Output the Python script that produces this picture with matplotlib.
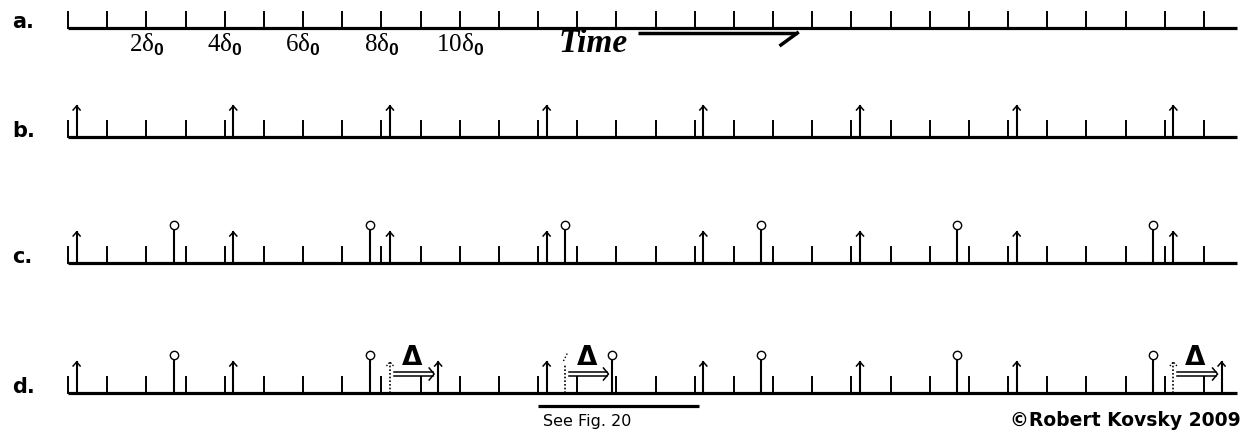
import matplotlib
matplotlib.use("Agg")
import matplotlib.pyplot as plt

# ---- data (time in units of one tick interval, delta_0) ----
ticks = list(range(30))                 # tick marks on every time line
line_end = 29.84                        # where the time lines stop
tick_labels = [2, 4, 6, 8, 10]          # labelled ticks on line a

# line b / c: regular pulses (arrows)
arrows_bc = [0.22, 4.22, 8.22, 12.22, 16.22, 20.22, 24.22, 28.22]
# line c: second regular train (lollipops)
pins_c = [2.7, 7.7, 12.7, 17.7, 22.7, 27.7]

# line d: same trains, some pulses delayed by Delta
arrows_d = [0.22, 4.22, 9.45, 12.22, 16.22, 20.22, 24.22, 29.45]
pins_d = [2.7, 7.7, 13.9, 17.7, 22.7, 27.7]
ghost_arrows_d = [8.22, 28.22]          # dotted original positions
ghost_pins_d = [12.7]
shifts_d = [(8.22, 9.45), (12.7, 13.9), (28.22, 29.45)]

# ---- layout (pixels, y down) ----
X0, DX = 68, 39.17
PX = 1 / DX                             # one pixel in time units
rows = {"a": 28, "b": 137, "c": 263, "d": 393}
TICK_H = 16
ARROW_H = 31
PIN_H = 36

plt.rcParams["mathtext.fontset"] = "custom"
plt.rcParams["mathtext.rm"] = "Liberation Serif"
plt.rcParams["mathtext.bf"] = "Liberation Sans:bold"

fig = plt.figure(figsize=(12.56, 4.40), dpi=100)
ax = fig.add_axes([0, 0, 1, 1])
ax.set_xlim(-X0 / DX, (1256 - X0) / DX)
ax.set_ylim(440, 0)
ax.axis("off")


def time_line(y):
    ax.plot([0, line_end], [y, y], color="black", lw=2.3, solid_capstyle="butt")
    for t in ticks:
        ax.plot([t, t], [y, y - TICK_H], color="black", lw=1.4)


def arrow(t, y, ls="-"):
    top = y - ARROW_H
    ax.plot([t, t], [y, top], color="black", lw=1.5, ls=ls)
    ax.plot([t - 3.5 * PX, t, t + 3.5 * PX], [top + 4, top, top + 4],
            color="black", lw=1.1, ls=ls)


def pin(t, y):
    top = y - PIN_H
    ax.plot([t, t], [y, top], color="black", lw=1.5)
    ax.plot([t], [top - 1.5], marker="o", ms=6, mfc="white", mec="black",
            mew=1.0, ls="none")


def ghost(t, y, h):
    ax.plot([t, t], [y, y - h], color="black", lw=1.2, ls=(0, (1, 1.2)))


def delta_arrow(t0, t1, y):
    a, b = t0 + 4 * PX, t1 - 4 * PX
    for yy in (y - 21, y - 17):
        ax.plot([a, b - 1.5 * PX], [yy, yy], color="black", lw=1.1)
    ax.plot([b - 5 * PX, b, b - 5 * PX], [y - 25, y - 19, y - 13],
            color="black", lw=1.1)
    ax.text((a + b) / 2 - 2 * PX, y - 28, "\u0394", fontsize=19,
            fontweight="heavy", ha="center", va="baseline",
            family="DejaVu Sans")


# row labels
for name, y in rows.items():
    ax.text(-56 * PX, y, name + ".", fontsize=15, fontweight="bold",
            ha="left", va="baseline", family="DejaVu Sans")

# a. bare time line with labels
time_line(rows["a"])
for k in tick_labels:
    ax.text(k, 52, r"$\mathrm{%d\delta}_{\mathbf{0}}$" % k, fontsize=18,
            ha="center", va="baseline")
ax.text(13.42, 52, "Time", fontsize=24, fontweight="bold", style="italic",
        family="Liberation Serif", ha="center", va="baseline")
ax.plot([14.55, 18.62], [33, 33], color="black", lw=2.5, solid_capstyle="butt")
ax.plot([18.62, 18.2], [33, 45], color="black", lw=2.5)

# b. one pulse train
time_line(rows["b"])
for t in arrows_bc:
    arrow(t, rows["b"])

# c. two pulse trains
time_line(rows["c"])
for t in arrows_bc:
    arrow(t, rows["c"])
for t in pins_c:
    pin(t, rows["c"])

# d. delayed pulses
time_line(rows["d"])
for t in arrows_d:
    arrow(t, rows["d"])
for t in pins_d:
    pin(t, rows["d"])
for t in ghost_arrows_d:
    ghost(t, rows["d"], ARROW_H)
    ax.plot([t - 3.5 * PX, t, t + 3.5 * PX],
            [rows["d"] - ARROW_H + 4, rows["d"] - ARROW_H, rows["d"] - ARROW_H + 4],
            color="black", lw=1.0, ls=(0, (1, 1.2)))
for t in ghost_pins_d:
    ghost(t, rows["d"], PIN_H - 8)
    ax.plot([t - 2 * PX, t, t + 2 * PX], [rows["d"] - PIN_H + 4,
            rows["d"] - PIN_H, rows["d"] - PIN_H - 4], color="black",
            lw=1.0, ls=(0, (1, 1.5)))

for t0, t1 in shifts_d:
    delta_arrow(t0, t1, rows["d"])

# footer
ax.plot([12.0, 16.1], [406, 406], color="black", lw=2.3, solid_capstyle="butt")
ax.text(13.25, 426, "See Fig. 20", fontsize=11.5, ha="center", va="baseline",
        family="DejaVu Sans")
ax.text(29.95, 426, "\u00a9Robert Kovsky 2009", fontsize=13.5, fontweight="bold",
        ha="right", va="baseline", family="DejaVu Sans")

fig.savefig("out.png", dpi=100, facecolor="white")
